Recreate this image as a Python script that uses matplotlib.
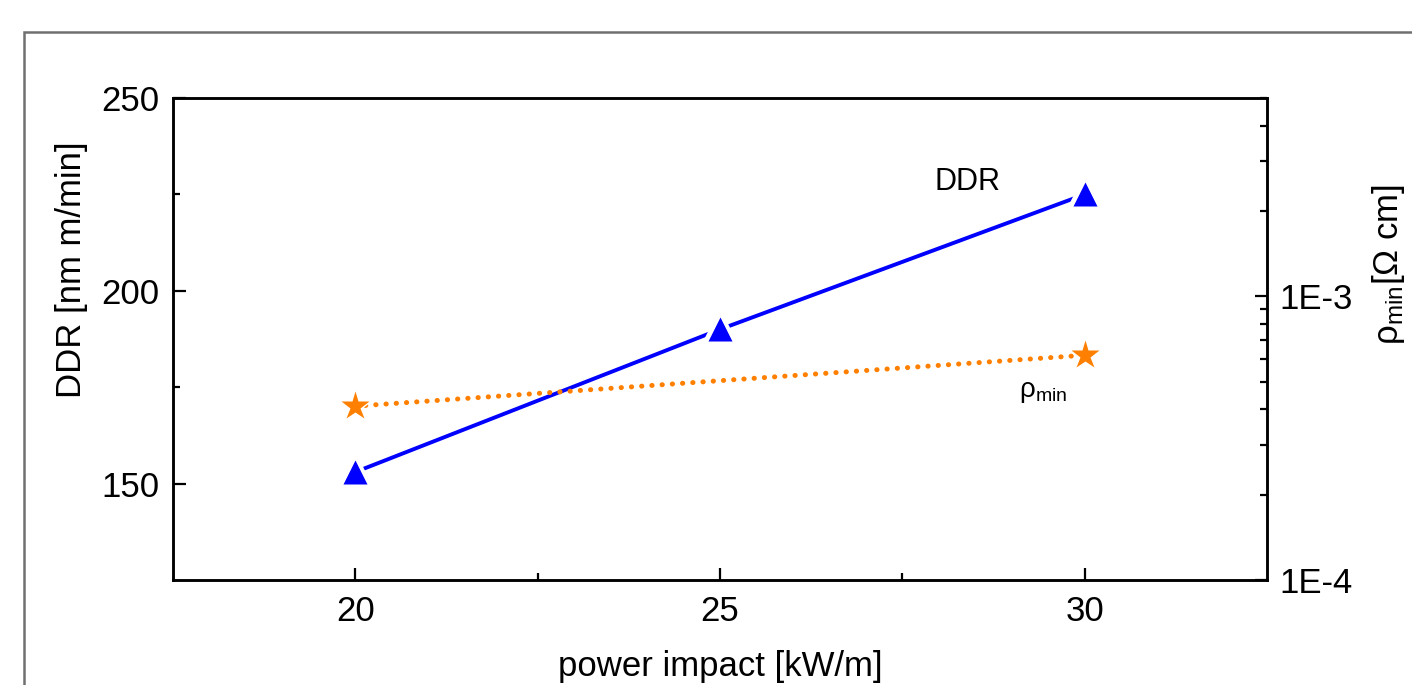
import matplotlib
matplotlib.use('Agg')
import matplotlib.pyplot as plt
from matplotlib.patches import Rectangle
from matplotlib.ticker import FixedLocator, LogLocator, NullFormatter, FuncFormatter

plt.rcParams['font.family'] = ['Liberation Sans', 'DejaVu Sans']
plt.rcParams['mathtext.fontset'] = 'custom'
plt.rcParams['mathtext.rm'] = 'Liberation Sans'
plt.rcParams['mathtext.it'] = 'Liberation Sans:italic'

# data
power = [20, 25, 30]
ddr = [153, 190, 225]
power_rho = [20, 30]
rho_min = [4.1e-4, 6.2e-4]

fig = plt.figure(figsize=(14.12, 6.85), dpi=100)
ax = fig.add_axes([0.1225, 0.1533, 0.7748, 0.7036])

# grey frame around the graph page
fig.patches.append(Rectangle((24 / 1412, -0.2), 1.2, 1.2 - 32 / 685,
                             transform=fig.transFigure, fill=False,
                             edgecolor='#707070', linewidth=1.8))

# DDR: line, white halo to cut the line near markers, then the markers
ax.plot(power, ddr, color='#0000ff', lw=2.8, zorder=2)
ax.plot(power, ddr, ls='none', marker='^', ms=17, mfc='white', mec='white',
        mew=6, zorder=3)
ax.plot(power, ddr, ls='none', marker='^', ms=17, mfc='#0000ff', mec='none',
        zorder=4)

ax2 = ax.twinx()
ax2.set_yscale('log')
ax2.plot(power_rho, rho_min, color='#ff8000', lw=3.6, ls=(0, (0.05, 2.0)),
         dash_capstyle='round', zorder=2)
ax2.plot(power_rho, rho_min, ls='none', marker='*', ms=21, mfc='white',
         mec='white', mew=3, zorder=3)
ax2.plot(power_rho, rho_min, ls='none', marker='*', ms=21, mfc='#ff8000',
         mec='none', zorder=4)

ax.set_xlim(17.5, 32.5)
ax.set_ylim(125, 250)
ax2.set_ylim(1e-4, 5e-3)

ax.xaxis.set_major_locator(FixedLocator([20, 25, 30]))
ax.xaxis.set_minor_locator(FixedLocator([22.5, 27.5]))
ax.yaxis.set_major_locator(FixedLocator([150, 200, 250]))
ax.yaxis.set_minor_locator(FixedLocator([175, 225]))

ax2.yaxis.set_major_locator(FixedLocator([1e-4, 1e-3]))
ax2.yaxis.set_minor_locator(LogLocator(base=10, subs=range(2, 10)))
ax2.yaxis.set_minor_formatter(NullFormatter())
ax2.yaxis.set_major_formatter(FuncFormatter(lambda v, p: '1E-3' if v > 5e-4 else '1E-4'))

for a in (ax, ax2):
    for s in a.spines.values():
        s.set_linewidth(1.8)

ax.tick_params(axis='both', which='major', direction='in', length=9, width=1.6,
               labelsize=25, top=False, right=False)
ax.tick_params(axis='both', which='minor', direction='in', length=5, width=1.6,
               top=False, right=False)
ax.tick_params(axis='x', which='major', pad=11)
ax.tick_params(axis='y', which='major', pad=10)
ax2.tick_params(axis='y', which='major', direction='in', length=9, width=1.6,
                labelsize=25, pad=9)
ax2.tick_params(axis='y', which='minor', direction='in', length=5, width=1.6)

ax.set_xlabel('power impact [kW/m]', fontsize=25)
ax.xaxis.set_label_coords(0.5, -0.145)
ax.set_ylabel('DDR [nm m/min]', fontsize=25)
ax.yaxis.set_label_coords(-0.078, 0.643)
ax2.set_ylabel(r'ρ$_{\mathrm{min}}$[Ω cm]', fontsize=25)
ax2.yaxis.set_label_coords(1.094, 0.655)

ax.text(0.726, 0.826, 'DDR', transform=ax.transAxes, fontsize=22,
        ha='center', va='center')
ax.text(0.795, 0.39, r'ρ$_{\mathrm{min}}$', transform=ax.transAxes, fontsize=20,
        ha='center', va='center')

fig.savefig('out.png', dpi=100)
